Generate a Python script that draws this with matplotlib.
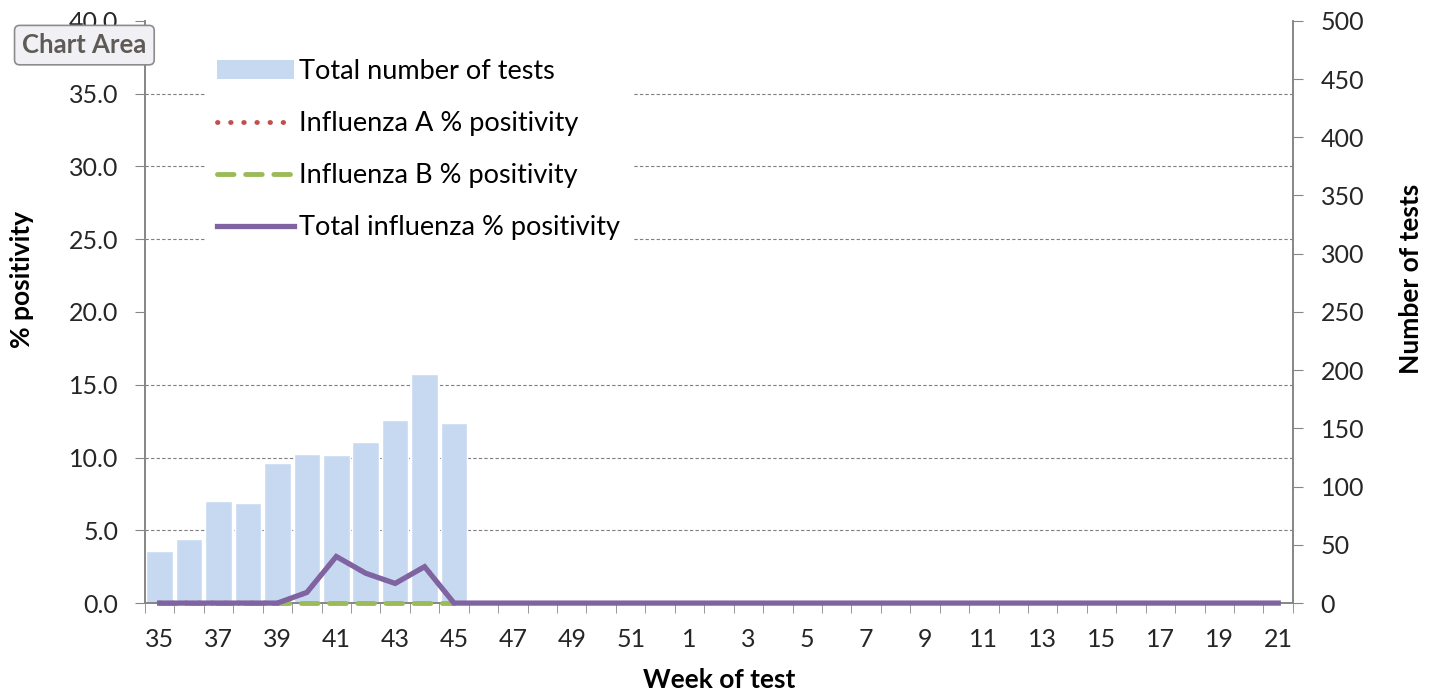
import numpy as np
import matplotlib
matplotlib.use('Agg')
import matplotlib.pyplot as plt
from matplotlib.ticker import MultipleLocator, FormatStrFormatter, FixedLocator
from matplotlib.patches import Patch
from matplotlib.lines import Line2D

plt.rcParams['font.family'] = ['Lato', 'DejaVu Sans']

# week labels (season runs from week 35 to week 21 of next year)
weeks = [35, 36, 37, 38, 39, 40, 41, 42, 43, 44, 45, 46, 47, 48, 49, 50, 51, 52,
         1, 2, 3, 4, 5, 6, 7, 8, 9, 10, 11, 12, 13, 14, 15, 16, 17, 18, 19, 20, 21]

# number of tests (only reported up to week 45)
tests = [45, 55, 88, 86, 120, 128, 127, 138, 157, 197, 155]

# % positivity
flu_a = [0, 0, 0, 0, 0, 0.73, 3.2, 2.05, 1.35, 2.5, 0]
flu_b = [0, 0, 0, 0, 0, 0, 0, 0, 0, 0, 0]
flu_total = [0, 0, 0, 0, 0, 0.73, 3.2, 2.05, 1.35, 2.5, 0,
             0, 0, 0, 0, 0, 0, 0, 0, 0, 0, 0, 0, 0, 0, 0, 0, 0,
             0, 0, 0, 0, 0, 0, 0, 0, 0, 0, 0]

bar_col = '#c6d9f0'
a_col = '#c0504d'
b_col = '#9bbb59'
tot_col = '#8064a2'
axis_col = '#868686'
txt_col = '#262626'
fs = 18
lab_fs = 19
leg_fs = 19.5

a_style = (0, (0.1, 2.6))
b_style = (0, (3.4, 2.4))

fig = plt.figure(figsize=(14.35, 6.94), dpi=100)
ax = fig.add_axes([0.101, 0.131, 0.800, 0.839])
ax2 = ax.twinx()
ax.set_zorder(ax2.get_zorder() + 1)
ax.patch.set_visible(False)

x = np.arange(len(weeks))

# bars on the right axis
ax2.bar(x[:len(tests)], tests, width=0.9, color=bar_col, edgecolor='white', linewidth=1)
ax2.set_ylim(0, 500)
ax2.yaxis.set_major_locator(MultipleLocator(50))
ax2.yaxis.set_minor_locator(MultipleLocator(62.5))
ax2.grid(which='minor', axis='y', linestyle=(0, (3, 2)), color='#7f7f7f', linewidth=0.8)
ax2.set_axisbelow(True)
ax2.tick_params(axis='y', which='major', direction='out', length=7, color=axis_col,
                labelsize=fs, labelcolor=txt_col, pad=13)
ax2.tick_params(axis='y', which='minor', length=0)
ax2.set_ylabel('Number of tests', fontsize=lab_fs, fontweight='bold')
ax2.yaxis.label.set_rotation(90)
ax2.yaxis.set_label_coords(1.092, 0.557)

# lines on the left axis
ax.plot(x[:len(flu_a)], flu_a, linestyle=a_style, color=a_col, linewidth=3.5,
        dash_capstyle='round', clip_on=False)
ax.plot(x[:len(flu_b)], flu_b, linestyle=b_style, color=b_col, linewidth=3.5,
        dash_capstyle='round', clip_on=False)
ax.plot(x, flu_total, color=tot_col, linewidth=3.8, solid_joinstyle='miter', clip_on=False)

ax.set_ylim(0, 40)
ax.set_xlim(-0.5, len(weeks) - 0.5)
ax.yaxis.set_major_locator(MultipleLocator(5))
ax.yaxis.set_major_formatter(FormatStrFormatter('%.1f'))
ax.tick_params(axis='y', direction='out', length=7, color=axis_col, labelsize=fs,
               labelcolor=txt_col, pad=12)
ax.set_ylabel('% positivity', fontsize=lab_fs, fontweight='bold')
ax.yaxis.set_label_coords(-0.097, 0.555)

ax.set_xticks(x[::2])
ax.set_xticklabels([str(w) for w in weeks[::2]])
ax.xaxis.set_minor_locator(FixedLocator(np.arange(-0.5, len(weeks), 1)))
ax.tick_params(axis='x', which='major', length=0, labelsize=fs, labelcolor=txt_col, pad=18)
ax.tick_params(axis='x', which='minor', direction='out', length=7, color=axis_col)
ax.set_xlabel('Week of test', fontsize=lab_fs, fontweight='bold', labelpad=12)

for a in (ax, ax2):
    a.spines['top'].set_visible(False)
    for s in ('left', 'right', 'bottom'):
        a.spines[s].set_color(axis_col)
        a.spines[s].set_linewidth(1.2)
ax.spines['bottom'].set_zorder(0.5)

handles = [Patch(facecolor=bar_col, edgecolor='none'),
           Line2D([], [], linestyle=a_style, color=a_col, linewidth=3.5, dash_capstyle='round'),
           Line2D([], [], linestyle=b_style, color=b_col, linewidth=3.5, dash_capstyle='round'),
           Line2D([], [], color=tot_col, linewidth=3.8)]
labels = ['Total number of tests', 'Influenza A % positivity',
          'Influenza B % positivity', 'Total influenza % positivity']
leg = ax.legend(handles, labels, loc='upper left', bbox_to_anchor=(0.052, 0.955),
                fontsize=leg_fs, frameon=True, fancybox=False, facecolor='white',
                edgecolor='none', framealpha=1, handlelength=2.85, handletextpad=0.2,
                labelspacing=1.0, borderaxespad=0, borderpad=0.45)

# Excel "Chart Area" tooltip
fig.text(0.0155, 0.935, 'Chart Area', fontsize=18.5, fontweight='bold', color='#5e5a55',
         va='center', ha='left',
         bbox=dict(boxstyle='round,pad=0.3,rounding_size=0.2', facecolor='#f0f0f5',
                   edgecolor='#8c8c8c', linewidth=1.2))

fig.savefig('out.png', dpi=100)
